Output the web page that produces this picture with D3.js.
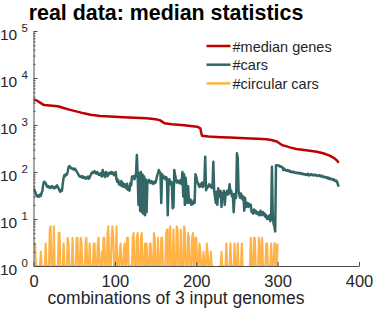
<!DOCTYPE html>
<html>
<head>
<meta charset="utf-8">
<script src="https://cdn.jsdelivr.net/npm/d3@7"></script>
<style>
  body { margin: 0; background: #fff; }
  svg { display: block; font-family: "Liberation Sans", Arial, Helvetica, sans-serif; }
</style>
</head>
<body>
<div id="chart"></div>
<script>
//////////////////////// Data ////////////////////////

const geneIdx = [0, 5, 10, 13, 30, 37, 45, 55, 62, 70, 82, 100, 110, 125, 139, 150, 155, 158, 161, 170, 185, 201, 205, 206, 207, 215, 230, 241, 260, 275, 286, 292, 299, 303, 306, 309, 316, 323, 335, 348, 356, 364, 370, 373, 375];
const medianGenes = [3500, 3250, 2850, 2650, 2500, 2300, 2100, 1900, 1770, 1650, 1560, 1500, 1460, 1420, 1390, 1320, 1270, 1180, 1090, 1040, 990, 920, 850, 700, 590, 570, 550, 540, 520, 510, 500, 480, 445, 400, 370, 360, 330, 310, 290, 270, 250, 223, 195, 175, 157];

// #cars, one value per combination (0..375)
const cars = [
  45, 42, 38, 34, 31, 30, 32, 30, 33, 31, 36, 40,
  55, 62, 60, 58, 52, 48,
  50, 47, 49, 46, 48, 50, 47, 45, 48, 46, 50,
  52, 48, 44, 40, 38, 42, 40, 57,
  75, 86, 82, 90, 88, 100,
  125, 134, 130, 122, 118, 120,
  115, 112, 118, 108, 104, 96, 90, 82,
  80, 78, 82, 76, 80,
  75, 78, 72, 76, 74, 80, 72, 76, 85,
  92, 98, 95, 100, 104, 96, 92, 100, 94, 88, 92,
  86, 95, 80, 110, 84, 96, 78, 100, 88, 82, 95, 90,
  95, 100, 92, 98, 90, 86, 95, 100,
  70, 62, 68, 55, 60, 52, 64, 50, 58, 48, 55,
  50, 45, 56, 42, 48, 40, 58, 52,
  80, 75, 82, 70, 78, 95,
  230,
  90, 20, 95, 15, 100, 14, 88, 13, 80, 12, 70, 14, 65,
  60, 68, 62, 58, 64, 60, 56, 62, 58, 60,
  70, 85, 95, 110, 100, 95, 22, 90, 80,
  75, 80, 70, 78, 72, 12, 60, 70, 55, 62, 58,
  17, 18, 110, 85, 70, 60, 66, 62, 58, 65, 68,
  55, 100, 30, 90, 20, 75, 45, 22, 50,
  24, 22, 26, 20, 23, 21, 25, 22, 90,
  80, 65, 58, 52, 48, 55, 50, 60, 48, 52, 58,
  210, 41, 45, 50, 48, 55, 52, 50, 46, 52,
  165, 40, 30, 22, 38, 20, 45, 30,
  33, 40, 18, 35, 28, 40, 20, 32,
  36, 40, 33, 38, 55, 35, 40, 30, 34,
  14, 30, 35, 28,
  250, 200, 40, 32, 28, 35, 30, 26,
  30, 15, 28, 18,
  20, 22, 18, 21, 19, 20,
  14, 15, 13, 16, 14, 15, 13, 14,
  14, 12, 13, 15, 12, 13, 14, 12, 13,
  11, 12, 10, 11, 10, 12, 9, 10,
  130, 12, 8, 7, 5.4, 140, 140, 138,
  138, 136, 130, 132, 128, 125, 110, 118, 112, 108, 106,
  110, 105, 108, 102, 104, 100, 98, 102, 100, 96, 98, 95, 97, 94, 96, 92, 95, 94, 90,
  92, 90, 88, 90, 86, 88, 92, 86, 84, 88, 90, 86, 88, 84, 86, 88, 84, 85, 82, 84,
  86, 82, 80, 84, 80, 78, 80, 78, 76, 78, 74, 76, 72, 74, 70, 72, 70, 68, 70, 66, 64, 66, 62, 55, 49
];

// #circular cars, one value per combination (0..300); 0 cannot be shown on the log axis
const circularCars = [
  3, 3, 3, 1, 1, 1, 1, 1, 1, 2, 1, 1, 1, 1, 1, 3, 1, 1, 1, 1,
  6, 7, 1, 1, 1, 7, 1, 1, 1, 1, 1, 5, 5, 1, 1, 1, 1, 3, 1, 1,
  1, 1, 4, 3, 1, 1, 1, 1, 4, 1, 1, 1, 1, 4, 4, 1, 1, 1, 4, 3,
  1, 1, 1, 1, 3, 4, 1, 1, 1, 3, 1, 1, 1, 1, 3, 3, 1, 1, 1, 3,
  4, 1, 1, 1, 2, 1, 4, 4, 1, 1, 1, 5, 7, 1, 1, 1, 4, 7, 4, 1,
  1, 1, 7, 1, 1, 1, 2, 3, 1, 1, 1, 2, 3, 1, 1, 4, 4, 1, 1, 1,
  1, 1, 4, 5, 1, 1, 1, 4, 5, 1, 1, 1, 4, 5, 1, 1, 1, 3, 1, 3,
  1, 1, 1, 3, 3, 1, 1, 1, 5, 4, 1, 1, 1, 4, 1, 1, 1, 4, 4, 1,
  1, 1, 1, 5, 6, 1, 1, 6, 7, 1, 1, 1, 6, 1, 1, 1, 7, 6, 1, 1,
  1, 6, 1, 1, 1, 7, 6, 1, 1, 1, 5, 4, 1, 1, 1, 4, 5, 1, 1, 4,
  4, 1, 1, 1, 3, 2, 1, 1, 1, 2, 1, 1, 1, 3, 2, 1, 1, 1, 2, 1,
  1, 1, 0, 0, 0, 0, 0, 0, 1, 1, 1, 2, 1, 1, 1, 1, 1, 3, 1, 0,
  1, 1, 3, 1, 1, 1, 1, 3, 1, 1, 1, 3, 1, 1, 1, 1, 3, 1, 1, 0,
  0, 0, 0, 0, 0, 1, 1, 4, 1, 1, 1, 4, 4, 1, 1, 1, 1, 4, 3, 1,
  1, 4, 1, 1, 1, 1, 3, 3, 1, 1, 1, 1, 3, 1, 1, 1, 3, 3, 1, 1,
  3
];

const xTicks = [0, 100, 200, 300, 400];
const yExponents = [0, 1, 2, 3, 4, 5];
const seriesNames = ["#median genes", "#cars", "#circular cars"];
const seriesColors = ["#c00000", "#336666", "#ffb347"];
const seriesWidths = [2.5, 2.5, 2.1];

//////////////////////// Layout ////////////////////////

const width = 374, height = 313;
const plotLeft = 33.5, plotRight = 359, plotTop = 31, plotBottom = 266;
const textColor = "#262626", axisColor = "#4d4d4d";

const svg = d3.select("#chart").append("svg")
  .attr("width", width)
  .attr("height", height);

const x = d3.scaleLinear().domain([0, 400]).range([plotLeft, plotRight]);
const y = d3.scaleLog().domain([1, 1e5]).range([plotBottom, plotTop]);

svg.append("defs").append("clipPath").attr("id", "plotClip")
  .append("rect")
  .attr("x", plotLeft).attr("y", plotTop - 2)
  .attr("width", plotRight - plotLeft).attr("height", plotBottom - plotTop + 2);

//////////////////////// Lines ////////////////////////

const line = d3.line()
  .defined(d => d[1] > 0)
  .x(d => x(d[0]))
  .y(d => y(d[1]));

const series = [
  geneIdx.map((g, i) => [g, medianGenes[i]]),
  cars.map((v, i) => [i, v]),
  circularCars.map((v, i) => [i, v])
];

const plot = svg.append("g").attr("clip-path", "url(#plotClip)");
series.forEach((s, k) => {
  plot.append("path")
    .datum(s)
    .attr("d", line)
    .attr("fill", "none")
    .attr("stroke", seriesColors[k])
    .attr("stroke-width", seriesWidths[k])
    .attr("stroke-linejoin", "round");
});

//////////////////////// Axes ////////////////////////

// x axis, ticks pointing inward
const xAxis = svg.append("g")
  .attr("transform", `translate(0,${plotBottom})`)
  .call(d3.axisBottom(x).tickValues(xTicks).tickSizeInner(-4).tickSizeOuter(0).tickPadding(9));
xAxis.selectAll("text").style("font-size", "16.5px").attr("fill", textColor);

// y axis, major and minor log ticks
const minors = [];
yExponents.slice(0, -1).forEach(e => { for (let m = 2; m < 10; m++) minors.push(m * Math.pow(10, e)); });

svg.append("g")
  .attr("transform", `translate(${plotLeft},0)`)
  .call(d3.axisLeft(y).tickValues(yExponents.map(e => Math.pow(10, e))).tickSizeInner(-4).tickSizeOuter(0).tickFormat(""));
svg.append("g")
  .attr("transform", `translate(${plotLeft},0)`)
  .call(d3.axisLeft(y).tickValues(minors).tickSizeInner(-2).tickSizeOuter(0).tickFormat(""))
  .select(".domain").remove();

svg.selectAll(".domain, .tick line").attr("stroke", axisColor);

// 10^n labels
const yLab = svg.append("g").attr("fill", textColor);
yExponents.forEach(e => {
  const t = yLab.append("text").attr("y", y(Math.pow(10, e)) + 9);
  t.append("tspan").attr("x", 0).style("font-size", "15.5px").text("10");
  t.append("tspan").attr("x", 21.5).attr("dy", -8.5).style("font-size", "11.5px").text(e);
});

//////////////////////// Texts ////////////////////////

svg.append("text")
  .attr("x", 166).attr("y", 20)
  .attr("text-anchor", "middle")
  .style("font-size", "21.4px").style("font-weight", "bold")
  .attr("fill", "#000")
  .text("real data: median statistics");

svg.append("text")
  .attr("x", 176).attr("y", 304)
  .attr("text-anchor", "middle")
  .style("font-size", "17.5px")
  .attr("fill", textColor)
  .text("combinations of 3 input genomes");

// legend
const legend = svg.append("g").attr("transform", "translate(206.5,46)");
seriesNames.forEach((name, k) => {
  const row = legend.append("g").attr("transform", `translate(0,${k * 18.7})`);
  row.append("line")
    .attr("x1", 0).attr("x2", 24)
    .attr("stroke", seriesColors[k]).attr("stroke-width", 2.5);
  row.append("text")
    .attr("x", 26).attr("y", 5.5)
    .style("font-size", "14.5px")
    .attr("fill", textColor)
    .text(name);
});
</script>
</body>
</html>
